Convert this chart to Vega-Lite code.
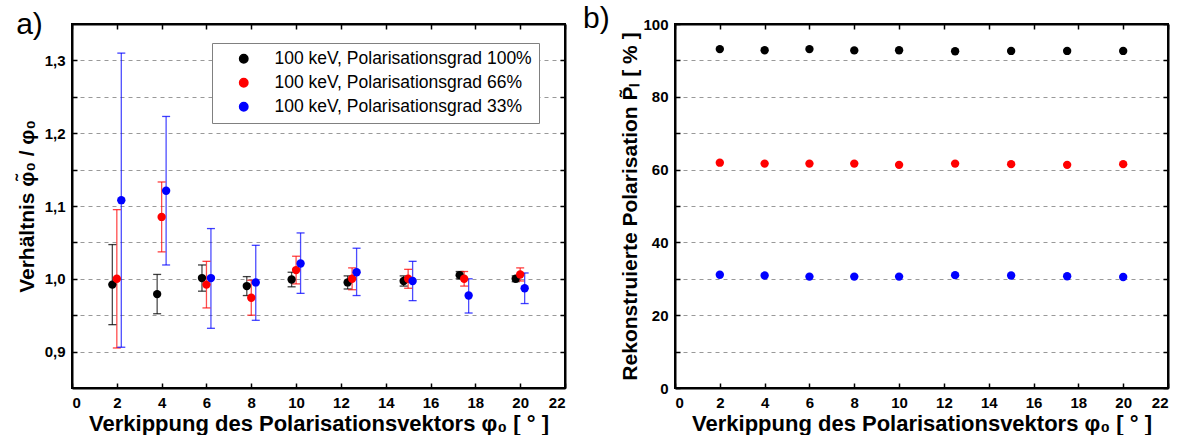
{
  "$schema": "https://vega.github.io/schema/vega-lite/v6.json",
  "padding": {"left": 15, "top": 3, "right": 5, "bottom": 0},
  "background": "white",
  "bounds": "flush",
  "spacing": 110,
  "config": {
    "font": "Liberation Sans",
    "view": {"stroke": "black", "strokeWidth": 2},
    "axis": {
      "labelFont": "Liberation Sans", "labelFontWeight": "bold", "labelFontSize": 15, "labelColor": "black",
      "titleFont": "Liberation Sans", "titleFontWeight": "bold", "titleFontSize": 21, "titleColor": "black",
      "tickColor": "black", "tickWidth": 1.5, "tickSize": -5, "labelPadding": 12,
      "domain": true, "domainColor": "black", "domainWidth": 2,
      "gridColor": "#999999", "gridDash": [4, 4], "gridWidth": 1
    }
  },
  "datasets": {
    "a": [
      {"s": "100 keV, Polarisationsgrad 100%", "x": 1.8, "y": 0.992, "lo": 0.937, "hi": 1.047},
      {"s": "100 keV, Polarisationsgrad 100%", "x": 3.8, "y": 0.979, "lo": 0.952, "hi": 1.006},
      {"s": "100 keV, Polarisationsgrad 100%", "x": 5.8, "y": 1.001, "lo": 0.983, "hi": 1.019},
      {"s": "100 keV, Polarisationsgrad 100%", "x": 7.8, "y": 0.990, "lo": 0.977, "hi": 1.003},
      {"s": "100 keV, Polarisationsgrad 100%", "x": 9.8, "y": 0.999, "lo": 0.989, "hi": 1.009},
      {"s": "100 keV, Polarisationsgrad 100%", "x": 12.3, "y": 0.995, "lo": 0.986, "hi": 1.004},
      {"s": "100 keV, Polarisationsgrad 100%", "x": 14.8, "y": 0.997, "lo": 0.990, "hi": 1.004},
      {"s": "100 keV, Polarisationsgrad 100%", "x": 17.3, "y": 1.005, "lo": 1.000, "hi": 1.010},
      {"s": "100 keV, Polarisationsgrad 100%", "x": 19.8, "y": 1.000, "lo": 0.996, "hi": 1.004},
      {"s": "100 keV, Polarisationsgrad 66%", "x": 2.0, "y": 1.000, "lo": 0.905, "hi": 1.095},
      {"s": "100 keV, Polarisationsgrad 66%", "x": 4.0, "y": 1.085, "lo": 1.037, "hi": 1.133},
      {"s": "100 keV, Polarisationsgrad 66%", "x": 6.0, "y": 0.992, "lo": 0.960, "hi": 1.024},
      {"s": "100 keV, Polarisationsgrad 66%", "x": 8.0, "y": 0.974, "lo": 0.950, "hi": 0.998},
      {"s": "100 keV, Polarisationsgrad 66%", "x": 10.0, "y": 1.012, "lo": 0.993, "hi": 1.031},
      {"s": "100 keV, Polarisationsgrad 66%", "x": 12.5, "y": 1.000, "lo": 0.985, "hi": 1.015},
      {"s": "100 keV, Polarisationsgrad 66%", "x": 15.0, "y": 1.000, "lo": 0.987, "hi": 1.013},
      {"s": "100 keV, Polarisationsgrad 66%", "x": 17.5, "y": 1.000, "lo": 0.990, "hi": 1.010},
      {"s": "100 keV, Polarisationsgrad 66%", "x": 20.0, "y": 1.006, "lo": 0.997, "hi": 1.015},
      {"s": "100 keV, Polarisationsgrad 33%", "x": 2.2, "y": 1.108, "lo": 0.906, "hi": 1.310},
      {"s": "100 keV, Polarisationsgrad 33%", "x": 4.2, "y": 1.121, "lo": 1.019, "hi": 1.223},
      {"s": "100 keV, Polarisationsgrad 33%", "x": 6.2, "y": 1.001, "lo": 0.932, "hi": 1.069},
      {"s": "100 keV, Polarisationsgrad 33%", "x": 8.2, "y": 0.995, "lo": 0.943, "hi": 1.046},
      {"s": "100 keV, Polarisationsgrad 33%", "x": 10.2, "y": 1.021, "lo": 0.980, "hi": 1.063},
      {"s": "100 keV, Polarisationsgrad 33%", "x": 12.7, "y": 1.009, "lo": 0.977, "hi": 1.042},
      {"s": "100 keV, Polarisationsgrad 33%", "x": 15.2, "y": 0.997, "lo": 0.970, "hi": 1.024},
      {"s": "100 keV, Polarisationsgrad 33%", "x": 17.7, "y": 0.977, "lo": 0.953, "hi": 1.000},
      {"s": "100 keV, Polarisationsgrad 33%", "x": 20.2, "y": 0.987, "lo": 0.966, "hi": 1.008}
    ],
    "b": [
      {"s": "100 keV, Polarisationsgrad 100%", "x": 2, "y": 93.1},
      {"s": "100 keV, Polarisationsgrad 100%", "x": 4, "y": 92.8},
      {"s": "100 keV, Polarisationsgrad 100%", "x": 6, "y": 93.1},
      {"s": "100 keV, Polarisationsgrad 100%", "x": 8, "y": 92.75},
      {"s": "100 keV, Polarisationsgrad 100%", "x": 10, "y": 92.8},
      {"s": "100 keV, Polarisationsgrad 100%", "x": 12.5, "y": 92.5},
      {"s": "100 keV, Polarisationsgrad 100%", "x": 15, "y": 92.6},
      {"s": "100 keV, Polarisationsgrad 100%", "x": 17.5, "y": 92.6},
      {"s": "100 keV, Polarisationsgrad 100%", "x": 20, "y": 92.6},
      {"s": "100 keV, Polarisationsgrad 66%", "x": 2, "y": 61.9},
      {"s": "100 keV, Polarisationsgrad 66%", "x": 4, "y": 61.65},
      {"s": "100 keV, Polarisationsgrad 66%", "x": 6, "y": 61.65},
      {"s": "100 keV, Polarisationsgrad 66%", "x": 8, "y": 61.65},
      {"s": "100 keV, Polarisationsgrad 66%", "x": 10, "y": 61.3},
      {"s": "100 keV, Polarisationsgrad 66%", "x": 12.5, "y": 61.65},
      {"s": "100 keV, Polarisationsgrad 66%", "x": 15, "y": 61.5},
      {"s": "100 keV, Polarisationsgrad 66%", "x": 17.5, "y": 61.3},
      {"s": "100 keV, Polarisationsgrad 66%", "x": 20, "y": 61.5},
      {"s": "100 keV, Polarisationsgrad 33%", "x": 2, "y": 31.1},
      {"s": "100 keV, Polarisationsgrad 33%", "x": 4, "y": 30.9},
      {"s": "100 keV, Polarisationsgrad 33%", "x": 6, "y": 30.6},
      {"s": "100 keV, Polarisationsgrad 33%", "x": 8, "y": 30.6},
      {"s": "100 keV, Polarisationsgrad 33%", "x": 10, "y": 30.6},
      {"s": "100 keV, Polarisationsgrad 33%", "x": 12.5, "y": 31.0},
      {"s": "100 keV, Polarisationsgrad 33%", "x": 15, "y": 30.9},
      {"s": "100 keV, Polarisationsgrad 33%", "x": 17.5, "y": 30.7},
      {"s": "100 keV, Polarisationsgrad 33%", "x": 20, "y": 30.5}
    ]
  },
  "hconcat": [
    {
      "width": 493,
      "height": 364,
      "title": {"text": "a)", "anchor": "start", "frame": "bounds", "fontSize": 30, "fontWeight": "normal", "font": "Liberation Sans", "color": "black", "offset": 11, "dy": 28},
      "data": {"name": "a"},
      "resolve": {"axis": {"x": "independent", "y": "independent"}},
      "layer": [
        {
          "mark": {"type": "circle", "size": 70, "opacity": 0},
          "encoding": {
            "x": {"field": "x", "type": "quantitative", "scale": {"domain": [0, 22], "nice": false, "zero": false},
                  "axis": {"values": [0, 2, 4, 6, 8, 10, 12, 14, 16, 18, 20, 22], "grid": false, "title": "Verkippung des Polarisationsvektors φ₀ [ ° ]", "titlePadding": 3, "titleFontSize": 22}},
            "y": {"field": "y", "type": "quantitative", "scale": {"domain": [0.85, 1.35], "nice": false, "zero": false},
                  "axis": {"values": [0.9, 0.95, 1.0, 1.05, 1.1, 1.15, 1.2, 1.25, 1.3], "grid": true, "title": "Verhältnis φ̃₀ / φ₀", "titlePadding": 7,
                           "labelExpr": "(round(datum.value*100) % 10 == 0) ? replace(format(datum.value, '.1f'), '.', ',') : ''"}},
            "color": {"field": "s", "type": "nominal",
                      "scale": {"domain": ["100 keV, Polarisationsgrad 100%", "100 keV, Polarisationsgrad 66%", "100 keV, Polarisationsgrad 33%"], "range": ["#000000", "#ff0000", "#0000ff"]},
                      "legend": {"orient": "none", "legendX": 140, "legendY": 19, "title": null, "strokeColor": "#808080", "fillColor": "white",
                                 "padding": 7, "rowPadding": 5, "symbolOffset": 16, "labelOffset": 22, "symbolType": "circle", "symbolSize": 70, "symbolOpacity": 1,
                                 "labelFont": "Liberation Sans", "labelFontSize": 17.5, "labelColor": "black", "labelLimit": 0}}
          }
        },
        {
          "mark": {"type": "rule", "strokeWidth": 1.3, "opacity": 0.7},
          "encoding": {
            "x": {"field": "x", "type": "quantitative", "axis": null},
            "y": {"field": "lo", "type": "quantitative", "axis": null},
            "y2": {"field": "hi"},
            "color": {"field": "s", "type": "nominal", "legend": null}
          }
        },
        {
          "mark": {"type": "tick", "orient": "horizontal", "size": 8, "thickness": 1.3, "opacity": 0.75},
          "encoding": {
            "x": {"field": "x", "type": "quantitative", "axis": null},
            "y": {"field": "lo", "type": "quantitative", "axis": null},
            "color": {"field": "s", "type": "nominal", "legend": null}
          }
        },
        {
          "mark": {"type": "tick", "orient": "horizontal", "size": 8, "thickness": 1.3, "opacity": 0.75},
          "encoding": {
            "x": {"field": "x", "type": "quantitative", "axis": null},
            "y": {"field": "hi", "type": "quantitative", "axis": null},
            "color": {"field": "s", "type": "nominal", "legend": null}
          }
        },
        {
          "mark": {"type": "circle", "size": 70, "opacity": 1},
          "encoding": {
            "x": {"field": "x", "type": "quantitative", "axis": null},
            "y": {"field": "y", "type": "quantitative", "axis": null},
            "color": {"field": "s", "type": "nominal", "legend": null}
          }
        },
        {
          "mark": {"type": "point", "opacity": 0},
          "encoding": {
            "x": {"field": "x", "type": "quantitative", "axis": {"orient": "top", "values": [0, 2, 4, 6, 8, 10, 12, 14, 16, 18, 20, 22], "labels": false, "title": null, "grid": false}},
            "y": {"field": "y", "type": "quantitative", "axis": {"orient": "right", "values": [0.9, 0.95, 1.0, 1.05, 1.1, 1.15, 1.2, 1.25, 1.3], "labels": false, "title": null, "grid": false}}
          }
        }
      ]
    },
    {
      "width": 493,
      "height": 364,
      "title": {"text": "b)", "anchor": "start", "frame": "bounds", "fontSize": 30, "fontWeight": "normal", "font": "Liberation Sans", "color": "black", "offset": 11, "dy": 28, "dx": -37},
      "data": {"name": "b"},
      "resolve": {"axis": {"x": "independent", "y": "independent"}},
      "layer": [
        {
          "mark": {"type": "circle", "size": 70, "opacity": 1},
          "encoding": {
            "x": {"field": "x", "type": "quantitative", "scale": {"domain": [0, 22], "nice": false, "zero": false},
                  "axis": {"values": [0, 2, 4, 6, 8, 10, 12, 14, 16, 18, 20, 22], "grid": false, "title": "Verkippung des Polarisationsvektors φ₀ [ ° ]", "titlePadding": 3, "titleFontSize": 22}},
            "y": {"field": "y", "type": "quantitative", "scale": {"domain": [0, 100], "nice": false},
                  "axis": {"values": [0, 10, 20, 30, 40, 50, 60, 70, 80, 90, 100], "grid": true, "title": "Rekonstruierte Polarisation P̃ₗ [ % ]", "titlePadding": 2,
                           "labelExpr": "(datum.value % 20 == 0) ? datum.label : ''"}},
            "color": {"field": "s", "type": "nominal", "legend": null}
          }
        },
        {
          "mark": {"type": "point", "opacity": 0},
          "encoding": {
            "x": {"field": "x", "type": "quantitative", "axis": {"orient": "top", "values": [0, 2, 4, 6, 8, 10, 12, 14, 16, 18, 20, 22], "labels": false, "title": null, "grid": false}},
            "y": {"field": "y", "type": "quantitative", "axis": {"orient": "right", "values": [0, 10, 20, 30, 40, 50, 60, 70, 80, 90, 100], "labels": false, "title": null, "grid": false}}
          }
        }
      ]
    }
  ]
}
